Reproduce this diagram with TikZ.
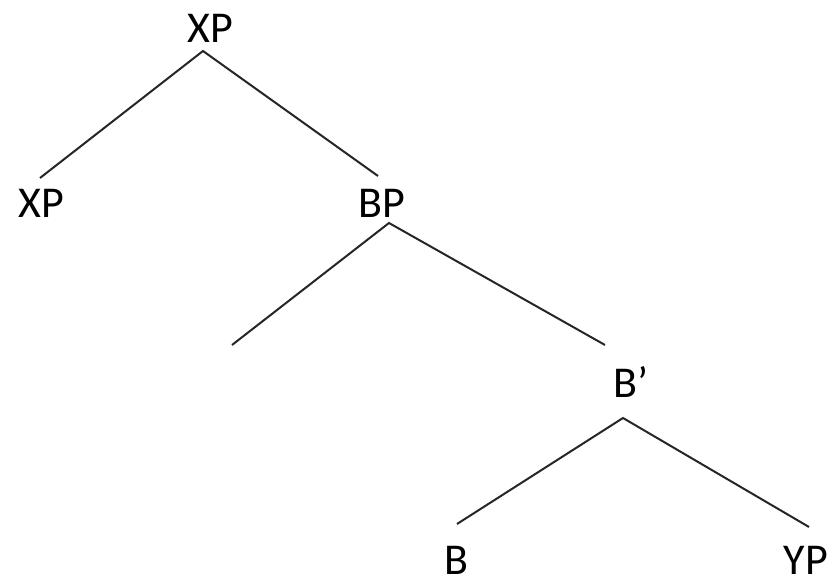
\documentclass[tikz,border=0pt]{standalone}
\usepackage{fontspec}
\setmainfont{Carlito}
\begin{document}
\begin{tikzpicture}[x=0.5pt,y=-0.5pt,
  lab/.style={anchor=base,inner sep=0pt,font=\fontsize{22}{26}\selectfont},
  edge/.style={line width=1pt,draw=black!85}]
\useasboundingbox (0,0) rectangle (831,581);
% labels
\node[lab] (xp) at (210,43) {XP};
\node[lab] (xpl) at (41,218) {XP};
\node[lab] (bp) at (382,218) {BP};
\node[lab] (bbar) at (631,398) {B’};
\node[lab] (b) at (456,575) {B};
\node[lab] (yp) at (806,575) {YP};
% connector end points
\coordinate (xp-a) at (203,51);
\coordinate (xpl-t) at (40,178);
\coordinate (bp-t) at (378,176);
\coordinate (bp-a) at (389,223);
\coordinate (spec) at (232,345);
\coordinate (bbar-t) at (605,345);
\coordinate (bbar-a) at (623,418);
\coordinate (b-t) at (457,524);
\coordinate (yp-t) at (809,527);
% connectors
\draw[edge] (xpl-t) -- (xp-a) -- (bp-t);
\draw[edge] (spec) -- (bp-a) -- (bbar-t);
\draw[edge] (b-t) -- (bbar-a) -- (yp-t);
\end{tikzpicture}
\end{document}
